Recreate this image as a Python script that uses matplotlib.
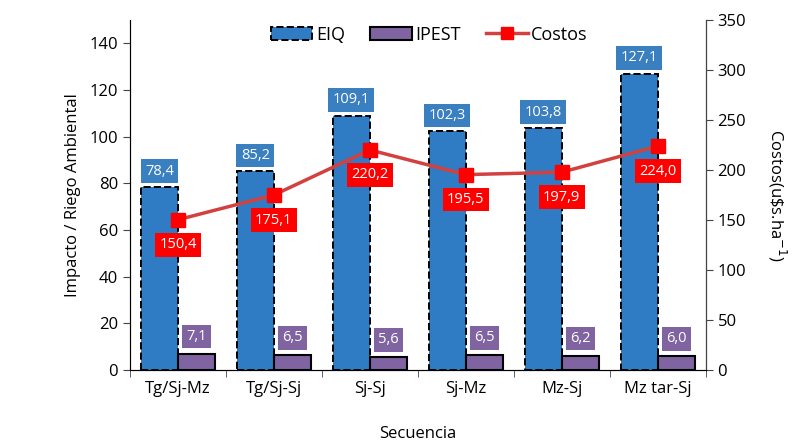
import numpy as np
import matplotlib
matplotlib.use('Agg')
import matplotlib.pyplot as plt
from matplotlib.patches import Patch
from matplotlib.lines import Line2D

plt.rcParams['font.family'] = ['Open Sans', 'DejaVu Sans']

# Data
secuencias = ['Tg/Sj-Mz', 'Tg/Sj-Sj', 'Sj-Sj', 'Sj-Mz', 'Mz-Sj', 'Mz tar-Sj']
eiq = [78.4, 85.2, 109.1, 102.3, 103.8, 127.1]
ipest = [7.1, 6.5, 5.6, 6.5, 6.2, 6.0]
costos = [150.4, 175.1, 220.2, 195.5, 197.9, 224.0]

blue = '#2F7BC4'
purple = '#8064A2'
red = '#FF0000'
line_red = '#D2413F'


def fmt(v):
    return f'{v:.1f}'.replace('.', ',')


fig = plt.figure(figsize=(7.92, 4.46), dpi=100)
ax = fig.add_axes([0.164, 0.170, 0.727, 0.785])
ax2 = ax.twinx()

x = np.arange(len(secuencias))
w = 0.385
ax.bar(x - w / 2, eiq, w, color=blue, edgecolor='black', linewidth=1.4,
       linestyle='--', zorder=2)
ax.bar(x + w / 2, ipest, w, color=purple, edgecolor='black', linewidth=1.5,
       zorder=2)

ax.set_xlim(-0.5, len(secuencias) - 0.5)
ax.set_ylim(0, 150)
ax.set_yticks(np.arange(0, 141, 20))
ax.set_xticks(x)
ax.set_xticks(np.arange(-0.5, len(secuencias), 1), minor=True)
ax.set_xticklabels(secuencias, fontsize=12)
ax.tick_params(axis='x', which='major', length=0, pad=8)
ax.tick_params(axis='x', which='minor', length=5, direction='out', color='#444444')
ax.tick_params(axis='y', labelsize=12, length=5, color='#444444')
ax.spines['top'].set_visible(False)
ax.spines['left'].set_color('#444444')
ax.spines['bottom'].set_color('#444444')
ax.set_ylabel('Impacto / Riego Ambiental', fontsize=12, labelpad=6)
ax.set_xlabel('Secuencia', fontsize=12, labelpad=21)

for xi, v in zip(x, eiq):
    ax.annotate(fmt(v), (xi - w / 2, v), xytext=(0, 6), textcoords='offset points',
                ha='center', va='bottom', color='white', fontsize=10.5,
                bbox=dict(boxstyle='square,pad=0.3', fc='#3A7FC0', ec='none'))
for xi, v in zip(x, ipest):
    ax.annotate(fmt(v), (xi + w / 2, v), xytext=(0, 7), textcoords='offset points',
                ha='center', va='bottom', color='white', fontsize=10.5,
                bbox=dict(boxstyle='square,pad=0.3', fc=purple, ec='none'))

ax2.plot(x, costos, color=line_red, linewidth=2.5, marker='s', markersize=10,
         markerfacecolor=red, markeredgecolor=red, zorder=3)
ax2.set_ylim(0, 350)
ax2.set_yticks(np.arange(0, 351, 50))
ax2.tick_params(axis='y', labelsize=12, length=5, color='#444444')
ax2.spines['top'].set_visible(False)
ax2.spines['right'].set_color('#444444')
ax2.set_ylabel('Costos(u\\$s.ha$^{-1}$)', fontsize=12, rotation=270, labelpad=30)

for xi, v in zip(x, costos):
    ax2.annotate(fmt(v), (xi, v), xytext=(0, -18), textcoords='offset points',
                 ha='center', va='center', color='white', fontsize=10.5,
                 bbox=dict(boxstyle='square,pad=0.3', fc=red, ec='none'), zorder=4)

handles = [
    Patch(facecolor=blue, edgecolor='black', linestyle='--', linewidth=1.4, label='EIQ'),
    Patch(facecolor=purple, edgecolor='black', linewidth=1.5, label='IPEST'),
    Line2D([0], [0], color=line_red, linewidth=2.5, marker='s', markersize=9,
           markerfacecolor=red, markeredgecolor=red, label='Costos'),
]
ax.legend(handles=handles, loc='upper center', bbox_to_anchor=(0.52, 1.03), ncol=3,
          frameon=False, fontsize=13, handlelength=2.3, handletextpad=0.2,
          columnspacing=1.4)

fig.savefig('out.png', dpi=100)
